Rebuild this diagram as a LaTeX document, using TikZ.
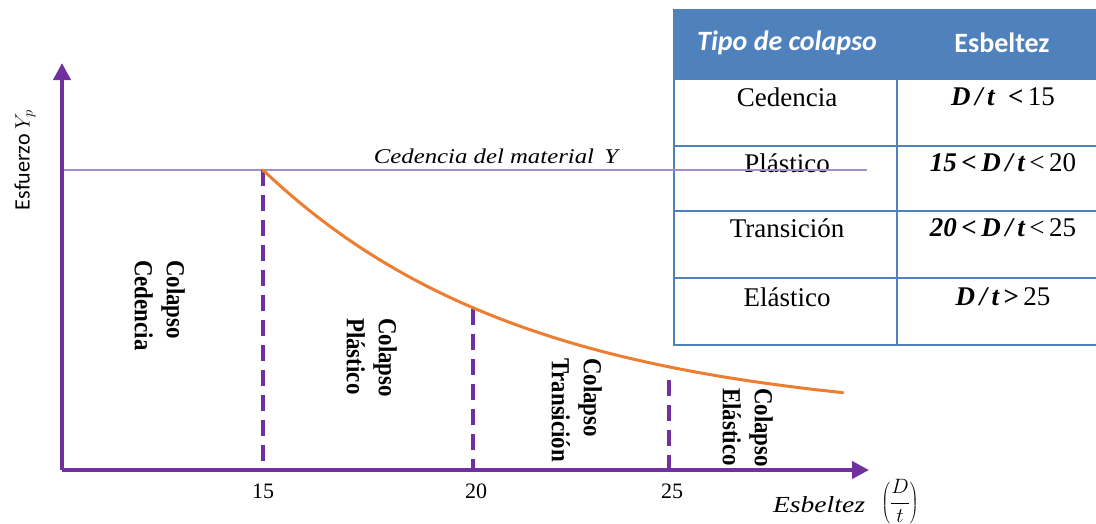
\documentclass[tikz,border=0pt]{standalone}
\usepackage{fontspec}
\setmainfont{Liberation Serif}
\newfontfamily\calib{Carlito}
\newfontfamily\condserif[FakeStretch=0.88]{Liberation Serif}
\usetikzlibrary{arrows.meta}
\definecolor{axpurple}{HTML}{7030A0}
\definecolor{lightpurple}{HTML}{A58CCB}
\definecolor{curveorange}{HTML}{ED7D31}
\definecolor{tblue}{HTML}{4F81BD}
\begin{document}
\begin{tikzpicture}[x=1pt,y=1pt,
  axisline/.style={line width=4pt, draw=axpurple, -{Triangle[length=17pt,width=17pt]}},
  guide/.style={line width=4pt, draw=axpurple, dash pattern=on 16pt off 9pt},
  tline/.style={line width=2.7pt, draw=tblue},
  collapse/.style={rotate=-90, anchor=north west, inner sep=0pt, align=left,
    font=\condserif\bfseries\fontsize{26}{32}\selectfont},
  hdr/.style={text=white, font=\calib\bfseries\fontsize{28}{30}\selectfont},
  cell/.style={font=\fontsize{27}{30}\selectfont},
  tick/.style={font=\fontsize{22}{24}\selectfont}]
\useasboundingbox (0,0) rectangle (1096,-523);
\clip (0,0) rectangle (1096,-523);
% table
\fill[tblue] (674,-9) rectangle (1100,-79);
\foreach \yy in {79,146,211,278,345} \draw[tline] (674,-\yy) -- (1100,-\yy);
\draw[tline] (674,-9) -- (674,-346);
\draw[tline] (897,-79) -- (897,-346);
\node[hdr] (h1) at (787,-43) {\itshape Tipo de colapso};
\node[hdr] (h2) at (1002,-43) {Esbeltez};
\node[cell] (c1) at (787,-97) {Cedencia};
\node[cell] (c2) at (787,-163) {Plástico};
\node[cell] (c3) at (787,-228) {Transición};
\node[cell] (c4) at (787,-297) {Elástico};
\node[cell] (e1) at (1003,-97) {{\bfseries\itshape D\,/\,t}\ \ {\bfseries <}\,15};
\node[cell] (e2) at (1003,-163) {{\bfseries\itshape 15}\,{\bfseries <}\,{\bfseries\itshape D\,/\,t}\,<\,20};
\node[cell] (e3) at (1003,-228) {{\bfseries\itshape 20}\,{\bfseries <}\,{\bfseries\itshape D\,/\,t}\,<\,25};
\node[cell] (e4) at (1003,-297) {{\bfseries\itshape D\,/\,t}\,{\bfseries >}\,25};
% axes
\coordinate (O) at (62,-470);
\coordinate (ytip) at (62,-63);
\coordinate (xtip) at (869,-470);
\coordinate (hl) at (62,-170);
\coordinate (hr) at (867,-170);
\draw[lightpurple, line width=1.8pt] (hl) -- (hr);
\coordinate (p15) at (263,-170);
\coordinate (b15) at (263,-470);
\coordinate (p20) at (473,-309);
\coordinate (b20) at (473,-470);
\coordinate (p25) at (669,-380);
\coordinate (b25) at (669,-470);
\draw[guide] (p15) -- (b15);
\draw[guide] (p20) -- (b20);
\draw[guide] (p25) -- (b25);
\draw[curveorange, line width=3pt, line cap=round] plot[domain=0:580, samples=80]
  ({263+\x}, {-(420-250*exp(-0.00382*\x))});
\draw[axisline] (O) -- (ytip);
\draw[axisline] (O) -- (xtip);
% labels
\node[rotate=90, font=\calib\fontsize{22}{24}\selectfont] (ylab) at (25,-160) {Esfuerzo $Y_p$};
\node[font=\itshape\fontsize{21}{24}\selectfont, xscale=1.18] (cedm) at (496,-156) {Cedencia del material \,Y};
\node[tick] (t15) at (263,-491) {15};
\node[tick] (t20) at (476,-491) {20};
\node[tick] (t25) at (672,-491) {25};
\node[font=\itshape\fontsize{23}{26}\selectfont, xscale=1.2] (xlab) at (819,-505) {Esbeltez};
\node[font=\fontsize{20}{24}\selectfont, anchor=base, inner sep=0pt] (frac) at (900,-508) {$\displaystyle\left(\frac{D}{t}\right)$};
\node[collapse] (lc) at (185,-260) {Colapso\\Cedencia};
\node[collapse] (lp) at (397,-318) {Colapso\\Plástico};
\node[collapse] (lt) at (602,-358) {Colapso\\Transición};
\node[collapse] (le) at (773,-388) {Colapso\\Elástico};
\end{tikzpicture}
\end{document}
